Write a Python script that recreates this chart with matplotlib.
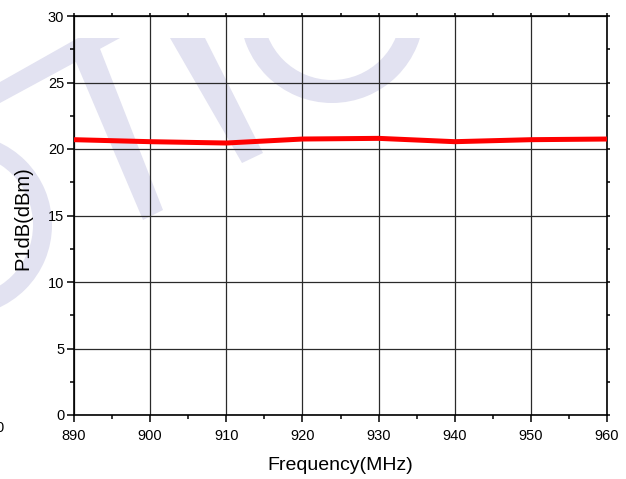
import matplotlib.pyplot as plt
import matplotlib.patches as mpatches
from matplotlib.ticker import MultipleLocator

plt.rcParams['font.family'] = ['Liberation Sans', 'DejaVu Sans']

# P1dB measured across the band
freq_mhz = [890, 900, 910, 920, 930, 940, 950, 960]
p1db_dbm = [20.7, 20.55, 20.45, 20.75, 20.8, 20.55, 20.7, 20.75]

W, H = 626, 479
fig = plt.figure(figsize=(W / 100, H / 100), dpi=100)

# faint logo in the background, laid out in pixel units
wm = fig.add_axes([0, 0, 1, 1], zorder=0)
wm.set_xlim(0, W)
wm.set_ylim(H, 0)
wm.axis('off')
wm_color = '#e2e2f1'
clip = mpatches.Rectangle((0, 38), W, H - 38, transform=wm.transData)
shapes = [
    mpatches.Polygon([(0, 82), (78, 38), (120, 38), (0, 103)]),
    mpatches.Polygon([(70, 48), (95, 36), (163, 210), (143, 220)]),
    mpatches.Polygon([(170, 38), (205, 38), (263, 153), (242, 163)]),
    mpatches.Wedge((332, 11), 92, 0, 360, width=23),
    mpatches.Wedge((-39, 225), 91, 0, 360, width=19),
]
for s in shapes:
    s.set_facecolor(wm_color)
    s.set_edgecolor('none')
    wm.add_patch(s)
    s.set_clip_path(clip)

ax = fig.add_axes([74 / W, 1 - 415 / H, 533 / W, 399 / H], zorder=1)
ax.patch.set_alpha(0)

ax.plot(freq_mhz, p1db_dbm, color='#ff0000', lw=3.6, solid_capstyle='butt', zorder=3)

ax.set_xlim(890, 960)
ax.set_ylim(0, 30)
ax.xaxis.set_major_locator(MultipleLocator(10))
ax.xaxis.set_minor_locator(MultipleLocator(5))
ax.yaxis.set_major_locator(MultipleLocator(5))
ax.yaxis.set_minor_locator(MultipleLocator(2.5))
ax.grid(True, which='major', color='#2a2a2a', lw=0.9)

for sp in ax.spines.values():
    sp.set_linewidth(1.2)
    sp.set_color('black')

ax.tick_params(which='major', direction='out', length=5, width=1.1,
               labelsize=10.5, top=True, right=True)
ax.tick_params(which='minor', direction='out', length=3, width=1.1,
               top=True, right=True)
ax.tick_params(axis='x', which='both', top=True)
ax.tick_params(which='both', axis='both', labeltop=False, labelright=False)
ax.tick_params(axis='x', which='major', pad=5)
ax.tick_params(axis='y', which='major', pad=2)
for t in ax.xaxis.get_ticklines(minor=False)[1::2] + ax.yaxis.get_ticklines(minor=False)[1::2]:
    t.set_markersize(2)
for t in ax.xaxis.get_ticklines(minor=True)[1::2] + ax.yaxis.get_ticklines(minor=True)[1::2]:
    t.set_markersize(2)

fig.text(340 / W, 1 - 466 / H, 'Frequency(MHz)', fontsize=14,
         ha='center', va='center')
fig.text(23 / W, 1 - 218 / H, 'P1dB(dBm)', fontsize=14.5, rotation=90,
         ha='center', va='center')
fig.text(0.0, 1 - 428 / H, '0', fontsize=10.5, ha='center', va='center')

fig.savefig('out.png', dpi=100)
